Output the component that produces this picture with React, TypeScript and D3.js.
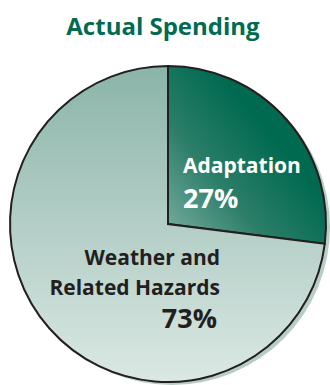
import React from "react";
import * as d3 from "d3";

const categories = ["Adaptation", "Weather and Related Hazards"];
const values = [27, 73];
const labelLines = [["Adaptation", "27%"], ["Weather and", "Related Hazards", "73%"]];

export default function App() {
  const W = 330, H = 385;
  const cx = 168, cy = 224, r = 158;
  const pie = d3.pie<number>().sort(null).startAngle(0).endAngle(2 * Math.PI);
  const arcs = pie(values);
  const arc = d3.arc<d3.PieArcDatum<number>>().innerRadius(0).outerRadius(r);
  const fills = ["url(#gA)", "url(#gW)"];
  const font = "'Open Sans', sans-serif";
  return (
    <svg width={W} height={H} style={{ position: "absolute", left: 0, top: 0 }}>
      <defs>
        <linearGradient id="gW" x1="0" y1="0" x2="0" y2="1">
          <stop offset="0" stopColor="#8bb4a8" />
          <stop offset="1" stopColor="#dbe8e4" />
        </linearGradient>
        <linearGradient id="gA" gradientUnits="userSpaceOnUse" x1={cx} y1={cy + 10} x2={cx + 120} y2={cy - 90}>
          <stop offset="0" stopColor="#86b5a8" />
          <stop offset="0.55" stopColor="#2c7e69" />
          <stop offset="1" stopColor="#006a50" />
        </linearGradient>
      </defs>
      <text x={163} y={35} textAnchor="middle" fontFamily={font} fontWeight={700} fontSize={24} fill="#006b4f">
        Actual Spending
      </text>
      <circle cx={cx + 4} cy={cy + 3} r={r} fill="#b7cec7" />
      <g transform={`translate(${cx},${cy})`}>
        {arcs.map((a, i) => (
          <path key={categories[i]} d={arc(a) || ""} fill={fills[i]} stroke="#231f20" strokeWidth={2} strokeLinejoin="miter" />
        ))}
      </g>
      <g fontFamily={font} fontWeight={700} fontSize={21}>
        <text x={183} y={173} fill="#ffffff">{labelLines[0][0]}</text>
        <text x={183} y={208} fill="#ffffff" fontSize={27}>{labelLines[0][1]}</text>
        <text x={220} y={265} fill="#231f20" textAnchor="end">{labelLines[1][0]}</text>
        <text x={220} y={295} fill="#231f20" textAnchor="end">{labelLines[1][1]}</text>
        <text x={217} y={328} fill="#231f20" textAnchor="end" fontSize={27}>{labelLines[1][2]}</text>
      </g>
    </svg>
  );
}
